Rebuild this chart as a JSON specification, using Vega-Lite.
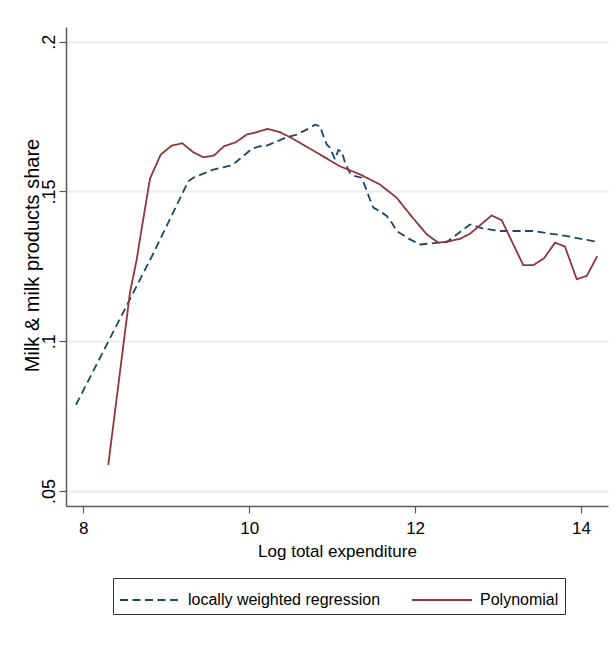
{
  "$schema": "https://vega.github.io/schema/vega-lite/v6.json",
  "autosize": "none",
  "width": 542,
  "height": 479,
  "padding": {"left": 66, "top": 27, "right": 8, "bottom": 144},
  "background": "white",
  "config": {
    "font": "Liberation Sans, Arial, sans-serif",
    "view": {"stroke": null},
    "axis": {
      "labelFont": "Liberation Sans, Arial, sans-serif",
      "titleFont": "Liberation Sans, Arial, sans-serif",
      "labelFontSize": 17,
      "titleFontSize": 17,
      "titleFontWeight": "normal",
      "labelColor": "black",
      "titleColor": "black",
      "domainColor": "#5a5a5a",
      "tickColor": "#5a5a5a",
      "domainWidth": 1.5,
      "tickWidth": 1.2,
      "tickSize": 7,
      "gridColor": "#e8eff2",
      "gridWidth": 2
    },
    "legend": {
      "labelFont": "Liberation Sans, Arial, sans-serif",
      "labelFontSize": 16,
      "labelColor": "black"
    }
  },
  "data": {
    "values": [
      {"series": "locally weighted regression", "x": 7.912, "y": 0.0788},
      {"series": "locally weighted regression", "x": 8.844, "y": 0.1293},
      {"series": "locally weighted regression", "x": 9.266, "y": 0.1534},
      {"series": "locally weighted regression", "x": 9.326, "y": 0.1546},
      {"series": "locally weighted regression", "x": 9.567, "y": 0.1573},
      {"series": "locally weighted regression", "x": 9.789, "y": 0.1587},
      {"series": "locally weighted regression", "x": 9.889, "y": 0.1609},
      {"series": "locally weighted regression", "x": 10.03, "y": 0.1642},
      {"series": "locally weighted regression", "x": 10.13, "y": 0.1651},
      {"series": "locally weighted regression", "x": 10.19, "y": 0.1651},
      {"series": "locally weighted regression", "x": 10.291, "y": 0.1662},
      {"series": "locally weighted regression", "x": 10.432, "y": 0.1679},
      {"series": "locally weighted regression", "x": 10.573, "y": 0.169},
      {"series": "locally weighted regression", "x": 10.733, "y": 0.1712},
      {"series": "locally weighted regression", "x": 10.793, "y": 0.1723},
      {"series": "locally weighted regression", "x": 10.854, "y": 0.1718},
      {"series": "locally weighted regression", "x": 10.902, "y": 0.1679},
      {"series": "locally weighted regression", "x": 10.934, "y": 0.1657},
      {"series": "locally weighted regression", "x": 10.974, "y": 0.1646},
      {"series": "locally weighted regression", "x": 11.034, "y": 0.1607},
      {"series": "locally weighted regression", "x": 11.074, "y": 0.1638},
      {"series": "locally weighted regression", "x": 11.115, "y": 0.1634},
      {"series": "locally weighted regression", "x": 11.155, "y": 0.1596},
      {"series": "locally weighted regression", "x": 11.215, "y": 0.1562},
      {"series": "locally weighted regression", "x": 11.275, "y": 0.1551},
      {"series": "locally weighted regression", "x": 11.356, "y": 0.1546},
      {"series": "locally weighted regression", "x": 11.396, "y": 0.1518},
      {"series": "locally weighted regression", "x": 11.456, "y": 0.1473},
      {"series": "locally weighted regression", "x": 11.496, "y": 0.1446},
      {"series": "locally weighted regression", "x": 11.577, "y": 0.1434},
      {"series": "locally weighted regression", "x": 11.658, "y": 0.1418},
      {"series": "locally weighted regression", "x": 11.718, "y": 0.1396},
      {"series": "locally weighted regression", "x": 11.778, "y": 0.1368},
      {"series": "locally weighted regression", "x": 11.939, "y": 0.134},
      {"series": "locally weighted regression", "x": 12.059, "y": 0.1323},
      {"series": "locally weighted regression", "x": 12.28, "y": 0.1329},
      {"series": "locally weighted regression", "x": 12.381, "y": 0.1331},
      {"series": "locally weighted regression", "x": 12.662, "y": 0.139},
      {"series": "locally weighted regression", "x": 12.822, "y": 0.1376},
      {"series": "locally weighted regression", "x": 13.024, "y": 0.1368},
      {"series": "locally weighted regression", "x": 13.425, "y": 0.1368},
      {"series": "locally weighted regression", "x": 13.828, "y": 0.1351},
      {"series": "locally weighted regression", "x": 14.189, "y": 0.1332},
      {"series": "Polynomial", "x": 8.301, "y": 0.0587},
      {"series": "Polynomial", "x": 8.563, "y": 0.1163},
      {"series": "Polynomial", "x": 8.644, "y": 0.1273},
      {"series": "Polynomial", "x": 8.696, "y": 0.1363},
      {"series": "Polynomial", "x": 8.804, "y": 0.1543},
      {"series": "Polynomial", "x": 8.933, "y": 0.1623},
      {"series": "Polynomial", "x": 9.066, "y": 0.1653},
      {"series": "Polynomial", "x": 9.193, "y": 0.1661},
      {"series": "Polynomial", "x": 9.326, "y": 0.1631},
      {"series": "Polynomial", "x": 9.447, "y": 0.1614},
      {"series": "Polynomial", "x": 9.576, "y": 0.162},
      {"series": "Polynomial", "x": 9.696, "y": 0.1651},
      {"series": "Polynomial", "x": 9.837, "y": 0.1664},
      {"series": "Polynomial", "x": 9.97, "y": 0.169},
      {"series": "Polynomial", "x": 10.09, "y": 0.1698},
      {"series": "Polynomial", "x": 10.223, "y": 0.1709},
      {"series": "Polynomial", "x": 10.363, "y": 0.1699},
      {"series": "Polynomial", "x": 10.492, "y": 0.1681},
      {"series": "Polynomial", "x": 10.793, "y": 0.1633},
      {"series": "Polynomial", "x": 11.095, "y": 0.1584},
      {"series": "Polynomial", "x": 11.336, "y": 0.1557},
      {"series": "Polynomial", "x": 11.577, "y": 0.1523},
      {"series": "Polynomial", "x": 11.778, "y": 0.1479},
      {"series": "Polynomial", "x": 11.939, "y": 0.1423},
      {"series": "Polynomial", "x": 12.14, "y": 0.1357},
      {"series": "Polynomial", "x": 12.28, "y": 0.1329},
      {"series": "Polynomial", "x": 12.4, "y": 0.1333},
      {"series": "Polynomial", "x": 12.541, "y": 0.1342},
      {"series": "Polynomial", "x": 12.662, "y": 0.1359},
      {"series": "Polynomial", "x": 12.923, "y": 0.142},
      {"series": "Polynomial", "x": 13.044, "y": 0.1404},
      {"series": "Polynomial", "x": 13.304, "y": 0.1254},
      {"series": "Polynomial", "x": 13.425, "y": 0.1254},
      {"series": "Polynomial", "x": 13.554, "y": 0.1277},
      {"series": "Polynomial", "x": 13.687, "y": 0.1329},
      {"series": "Polynomial", "x": 13.807, "y": 0.1316},
      {"series": "Polynomial", "x": 13.948, "y": 0.1207},
      {"series": "Polynomial", "x": 14.069, "y": 0.1218},
      {"series": "Polynomial", "x": 14.196, "y": 0.1284}
    ]
  },
  "mark": {"type": "line", "strokeWidth": 1.8, "clip": true},
  "encoding": {
    "x": {
      "field": "x",
      "type": "quantitative",
      "scale": {"domain": [7.7914, 14.3254], "nice": false, "zero": false},
      "axis": {
        "values": [8, 10, 12, 14],
        "grid": false,
        "title": "Log total expenditure",
        "labelPadding": 7,
        "titlePadding": 7
      }
    },
    "y": {
      "field": "y",
      "type": "quantitative",
      "scale": {"domain": [0.045, 0.2049], "nice": false, "zero": false},
      "axis": {
        "values": [0.05, 0.1, 0.15, 0.2],
        "grid": true,
        "labelAngle": 270,
        "labelAlign": "center",
        "labelBaseline": "alphabetic",
        "labelFontSize": 18,
        "labelPadding": 5,
        "labelExpr": "replace(format(datum.value, '.2~f'), '0.', '.')",
        "title": "Milk & milk products share",
        "titleFontSize": 20,
        "titleAngle": 270,
        "titleAlign": "center",
        "titleBaseline": "alphabetic",
        "titleX": -28,
        "titleY": 228
      }
    },
    "color": {
      "field": "series",
      "type": "nominal",
      "scale": {
        "domain": ["locally weighted regression", "Polynomial"],
        "range": ["#1a476f", "#90353b"]
      },
      "legend": {
        "title": null,
        "orient": "none",
        "legendX": 47,
        "legendY": 551,
        "direction": "horizontal",
        "columns": 2,
        "columnPadding": 27,
        "symbolType": "M-1,0H3",
        "symbolSize": 900,
        "symbolStrokeWidth": 2,
        "labelOffset": 37,
        "padding": 6,
        "strokeColor": "#333333",
        "fillColor": "white",
        "labelLimit": 400
      }
    },
    "strokeDash": {
      "field": "series",
      "type": "nominal",
      "scale": {
        "domain": ["locally weighted regression", "Polynomial"],
        "range": [[8, 4.5], [1, 0]]
      },
      "legend": {
        "title": null,
        "orient": "none",
        "legendX": 47,
        "legendY": 551,
        "direction": "horizontal",
        "columns": 2,
        "columnPadding": 27,
        "symbolType": "M-1,0H3",
        "symbolSize": 900,
        "symbolStrokeWidth": 2,
        "labelOffset": 37,
        "padding": 6,
        "strokeColor": "#333333",
        "fillColor": "white",
        "labelLimit": 400
      }
    }
  }
}
